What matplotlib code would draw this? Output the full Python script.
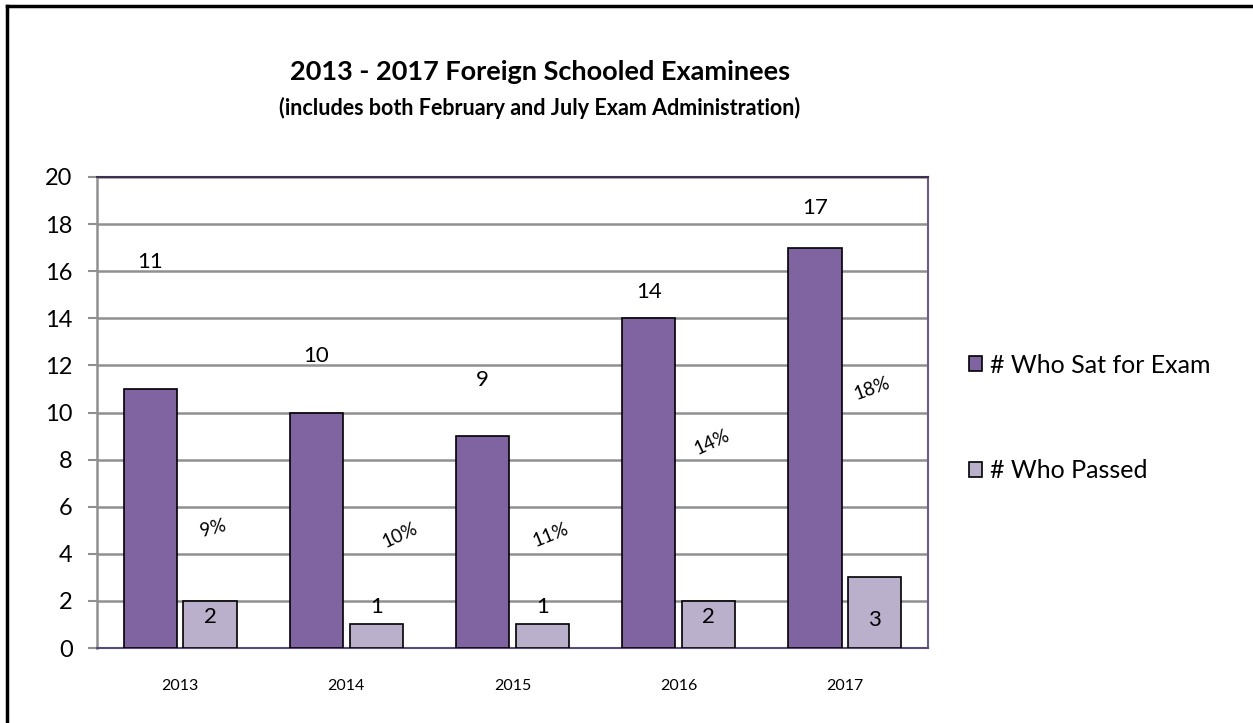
import numpy as np
import matplotlib.pyplot as plt
from matplotlib.lines import Line2D

plt.rcParams['font.family'] = ['Lato', 'DejaVu Sans']

years = ['2013', '2014', '2015', '2016', '2017']
sat = [11, 10, 9, 14, 17]
passed = [2, 1, 1, 2, 3]
pass_rate = ['9%', '10%', '11%', '14%', '18%']

# label placement (data units), hand-set like the original
sat_label_y = [16.4, 12.4, 11.4, 15.1, 18.7]
passed_label_y = [1.3, 1.75, 1.75, 1.3, 1.2]
rate_x = [0.2, 1.32, 2.23, 3.2, 4.16]
rate_y = [5.1, 4.8, 4.8, 8.75, 11.0]
rate_rot = [15, 25, 22, 25, 20]

purple = '#8064A2'
lilac = '#BAB0CB'

fig = plt.figure(figsize=(12.53, 7.23), dpi=100)
ax = fig.add_axes([0.0774, 0.1037, 0.6632, 0.6515])

x = np.arange(len(years))
w = 0.32
ax.bar(x - 0.18, sat, w, color=purple, edgecolor='black', linewidth=1.2, zorder=3,
       label='# Who Sat for Exam')
ax.bar(x + 0.18, passed, w, color=lilac, edgecolor='black', linewidth=1.2, zorder=3,
       label='# Who Passed')

for i in range(len(years)):
    ax.text(x[i] - 0.18, sat_label_y[i], str(sat[i]), ha='center', va='center', fontsize=16)
    ax.text(x[i] + 0.18, passed_label_y[i], str(passed[i]), ha='center', va='center',
            fontsize=16, zorder=4)
    ax.text(rate_x[i], rate_y[i], pass_rate[i], ha='center', va='center', fontsize=13.5,
            rotation=rate_rot[i])

ax.set_xlim(-0.5, 4.5)
ax.set_ylim(0, 20)
ax.set_yticks(range(0, 21, 2))
ax.set_xticks(x)
ax.set_xticklabels(years)
ax.tick_params(axis='y', labelsize=17, length=6.5, width=1.5, color='#909090', pad=11)
ax.tick_params(axis='x', labelsize=11.5, length=0, pad=22)
ax.yaxis.grid(True, color='#909090', linewidth=1.8, zorder=0)
ax.set_axisbelow(True)
ax.spines['left'].set_color('#909090')
ax.spines['left'].set_linewidth(1.8)
ax.spines['bottom'].set_color('#5A4A7A')
ax.spines['bottom'].set_linewidth(1.5)
ax.spines['top'].set_color('#3F3151')
ax.spines['top'].set_linewidth(1.5)
ax.spines['right'].set_color('#6B5A8A')
ax.spines['right'].set_linewidth(1.5)

fig.text(0.431, 0.901, '2013 - 2017 Foreign Schooled Examinees', ha='center', va='center',
         fontsize=19.5, fontweight='bold')
fig.text(0.431, 0.850, '(includes both February and July Exam Administration)', ha='center',
         va='center', fontsize=15.5, fontweight='bold')

fig.legend(loc='upper left', bbox_to_anchor=(0.755, 0.542), frameon=False, fontsize=18,
           handlelength=0.55, handleheight=0.55, handletextpad=0.3, labelspacing=3.3)

# outer chart border (only top and left edges are visible in the crop)
fig.add_artist(Line2D([0.0056, 1.0], [0.9917, 0.9917], color='black', linewidth=2.5))
fig.add_artist(Line2D([0.0056, 0.0056], [0.0, 0.9917], color='black', linewidth=2.5))

fig.savefig('out.png', dpi=100)
